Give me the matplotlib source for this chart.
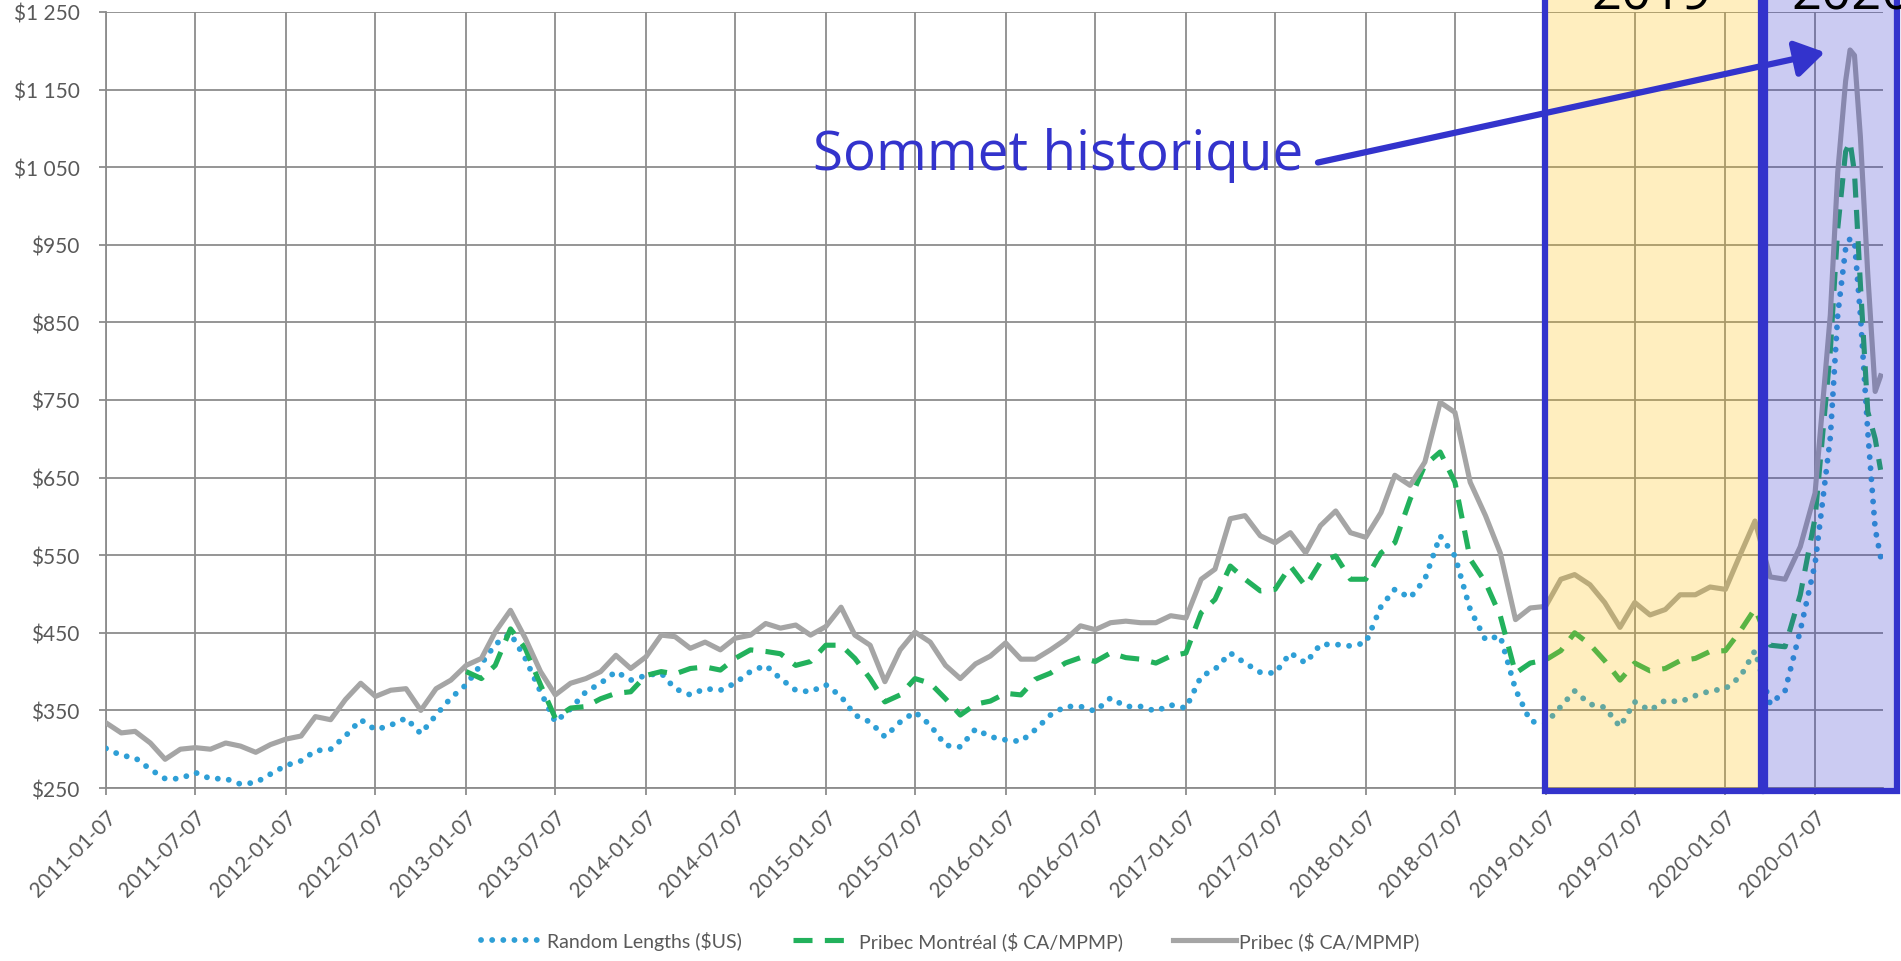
import matplotlib
matplotlib.use("Agg")
import matplotlib.pyplot as plt
import matplotlib.dates as mdates
import matplotlib.patches as patches
import numpy as np
import pandas as pd

# one reading per month from 2011-01-07, then a finer run through the 2020 peak
monthly_dates = pd.date_range("2011-01-07", periods=116, freq=pd.DateOffset(months=1))
peak_dates = pd.to_datetime(["2020-08-22", "2020-09-07", "2020-09-16", "2020-09-25",
                             "2020-10-07", "2020-10-22", "2020-11-06", "2020-11-17"])
dates = monthly_dates.append(peak_dates)

random_lengths = [
    301, 292, 289, 274, 262, 262, 270, 262, 262, 255, 257, 268,
    279, 285, 298, 300, 317, 338, 325, 331, 340, 320, 344, 366,
    383, 410, 435, 449, 417, 374, 335, 352, 374, 385, 400, 389,
    395, 398, 378, 370, 378, 376, 385, 400, 408, 391, 376, 374,
    383, 368, 344, 335, 316, 335, 348, 331, 305, 303, 326, 316,
    312, 310, 325, 344, 355, 355, 349, 366, 355, 355, 349, 357,
    353, 394, 403, 424, 411, 399, 398, 424, 411, 435, 435, 433,
    437, 484, 506, 495, 519, 575, 549, 480, 441, 446, 377, 336,
    333, 355, 375, 358, 354, 329, 361, 350, 363, 361, 369, 375,
    378, 394, 427, 358, 375, 453, 539, 702,
    860, 945, 958, 955, 860, 709, 584, 548]

pribec_montreal = [np.nan] * 24 + [
    400, 391, 408, 455, 430, 383, 340, 353, 355, 365, 372, 374,
    395, 400, 397, 404, 406, 402, 417, 428, 426, 423, 408, 413,
    434, 434, 417, 391, 361, 370, 391, 385, 365, 344, 358, 362,
    372, 370, 390, 398, 411, 418, 413, 424, 418, 416, 411, 420,
    424, 476, 493, 536, 519, 504, 506, 536, 510, 541, 549, 519,
    519, 553, 566, 622, 666, 683, 644, 545, 515, 472, 398, 411,
    415, 427, 450, 435, 414, 389, 411, 401, 404, 414, 417, 426,
    427, 453, 481, 434, 432, 499, 598, 814,
    971, 1070, 1083, 1043, 899, 735, 700, 660]

pribec = [
    334, 321, 323, 308, 287, 300, 302, 300, 308, 304, 296, 306,
    313, 317, 342, 338, 364, 385, 368, 376, 378, 350, 378, 389,
    408, 417, 451, 479, 443, 400, 370, 385, 391, 400, 421, 404,
    419, 447, 445, 430, 438, 428, 443, 447, 462, 456, 460, 447,
    458, 483, 447, 434, 387, 428, 451, 438, 408, 391, 410, 420,
    437, 416, 416, 428, 441, 459, 454, 463, 465, 463, 463, 472,
    469, 519, 532, 597, 601, 575, 566, 579, 553, 588, 607, 579,
    573, 605, 653, 640, 670, 747, 734, 644, 601, 553, 467, 482,
    484, 519, 525, 512, 489, 457, 489, 473, 480, 499, 499, 509,
    506, 552, 594, 522, 519, 561, 630, 860,
    1043, 1161, 1201, 1194, 1089, 912, 761, 781]

labels = ["Random Lengths ($US)", "Pribec Montréal ($ CA/MPMP)", "Pribec ($ CA/MPMP)"]
y_ticks = list(range(250, 1251, 100))
x_ticks = pd.date_range("2011-01-07", "2020-07-07", freq=pd.DateOffset(months=6))

blue = "#3333CC"
label_font = "Lato"

fig = plt.figure(figsize=(19.01, 9.62), dpi=100)
ax = fig.add_axes([0.05576, 0.17983, 0.9348, 0.8067])

ax.plot(dates, random_lengths, color="#2E9FD6", lw=4.2,
        linestyle=(0, (0.01, 1.9)), dash_capstyle="round", label=labels[0], zorder=3)
ax.plot(dates, pribec_montreal, color="#22B15C", lw=3.7,
        linestyle=(0, (3.7, 2.4)), label=labels[1], zorder=3)
ax.plot(dates, pribec, color="#A5A5A5", lw=3.7, label=labels[2], zorder=3)

ax.set_ylim(250, 1250)
ax.set_xlim(pd.Timestamp("2011-01-07"), pd.Timestamp("2020-11-22"))
ax.set_yticks(y_ticks)
ax.set_yticklabels(["$" + f"{v:,}".replace(",", " ") for v in y_ticks])
ax.set_xticks(x_ticks)
ax.set_xticklabels([d.strftime("%Y-%m-%d") for d in x_ticks], rotation=45,
                   ha="right", rotation_mode="anchor")

ax.grid(True, color="#8C8C8C", lw=1.3, zorder=0)
ax.set_axisbelow(True)
for s in ["top", "right"]:
    ax.spines[s].set_visible(False)
for s in ["left", "bottom"]:
    ax.spines[s].set_color("#8C8C8C")
    ax.spines[s].set_linewidth(1.3)
ax.tick_params(axis="both", colors="#8C8C8C", length=5, width=1.3,
               labelcolor="#595959", labelsize=15)
ax.tick_params(axis="y", pad=14)
ax.tick_params(axis="x", pad=8)
for t in ax.get_xticklabels() + ax.get_yticklabels():
    t.set_fontfamily(label_font)

# highlighted years, drawn over everything
x0 = mdates.date2num(pd.Timestamp("2019-01-05"))
x1 = mdates.date2num(pd.Timestamp("2020-03-19"))
x2 = mdates.date2num(pd.Timestamp("2020-03-27"))
x3 = mdates.date2num(pd.Timestamp("2020-12-20"))
ax.add_patch(patches.Rectangle((x0, 246), x1 - x0, 1300, facecolor=(1.0, 0.75, 0.0, 0.25),
                               edgecolor=blue, lw=4.5, clip_on=False, zorder=5))
ax.add_patch(patches.Rectangle((x2, 246), x3 - x2, 1300, facecolor=(0.2, 0.2, 0.8, 0.25),
                               edgecolor=blue, lw=4.5, clip_on=False, zorder=5))
ax.text(pd.Timestamp("2019-08-10"), 1254, "2019", fontsize=38, family="Open Sans",
        ha="center", va="baseline", clip_on=False, zorder=6)
ax.text(pd.Timestamp("2020-09-20"), 1254, "2020", fontsize=38, family="Open Sans",
        ha="center", va="baseline", clip_on=False, zorder=6)

ax.text(pd.Timestamp("2017-09-02"), 1048, "Sommet historique", fontsize=39.5,
        family="Open Sans", color=blue, ha="right", va="baseline", zorder=6)
ax.annotate("", xy=(pd.Timestamp("2020-07-27"), 1198),
            xytext=(pd.Timestamp("2017-10-02"), 1056),
            arrowprops=dict(arrowstyle="-|>,head_length=0.8,head_width=0.5",
                            color=blue, lw=4.5, mutation_scale=22,
                            shrinkA=0, shrinkB=0),
            annotation_clip=False, zorder=6)

fig.legend(loc="center", bbox_to_anchor=(0.5, 0.021), ncol=3, frameon=False,
           handlelength=3.2, columnspacing=2.6, handletextpad=0.2,
           prop={"family": label_font, "size": 14}, labelcolor="#595959")

fig.savefig("out.png", dpi=100, facecolor="white")
